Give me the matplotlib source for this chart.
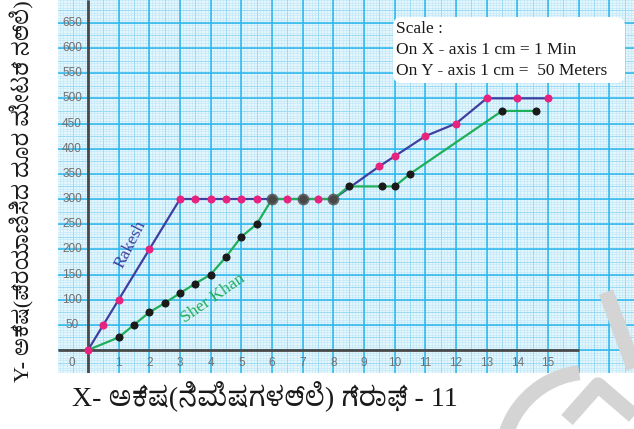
import numpy as np
import matplotlib
matplotlib.use("Agg")
import matplotlib.pyplot as plt
from matplotlib.patches import Arc, FancyBboxPatch

# ---------------- data ----------------
rakesh_x = [0, 0.5, 1, 2, 3, 3.5, 4, 4.5, 5, 5.5, 6, 6.5, 7, 7.5, 8, 9.5, 10, 11, 12, 13, 14, 15]
rakesh_y = [0, 50, 100, 200, 300, 300, 300, 300, 300, 300, 300, 300, 300, 300, 300, 365, 385, 425, 450, 500, 500, 500]

sher_x = [0, 1, 1.5, 2, 2.5, 3, 3.5, 4, 4.5, 5, 5.5, 6, 7, 8, 8.5, 9.6, 10, 10.5, 13.5, 14.6]
sher_y = [0, 25, 50, 75, 93, 113, 132, 150, 185, 225, 250, 300, 300, 300, 325, 325, 325, 350, 475, 475]
sher_big_x = [6, 7, 8]
sher_big_y = [300, 300, 300]

x_ticks = list(range(0, 16))
y_ticks = list(range(50, 651, 50))

x_label = "X- ಅಕ್ಷ(ನಿಮಿಷಗಳಲ್ಲಿ) ಗ್ರಾಫ್ - 11"
y_label = "Y- ಅಕ್ಷ(ಪ್ರಯಾಣಿಸಿದ ದೂರ ಮೀಟರ್ ನಲ್ಲಿ)"
scale_lines = ["Scale :", "On X - axis 1 cm = 1 Min", "On Y - axis 1 cm =  50 Meters"]

# ---------------- figure ----------------
W, H = 634, 429
fig = plt.figure(figsize=(W / 100, H / 100), dpi=100)
fig.patch.set_facecolor("white")

left_px, right_px, top_px, bot_px = 58, 634, 0, 373
ax = fig.add_axes([left_px / W, (H - bot_px) / H, (right_px - left_px) / W, (bot_px - top_px) / H])
xpx = 30.67   # px per minute
ypx = 0.5033  # px per meter
ox, oy = 88, 350
ax.set_xlim((left_px - ox) / xpx, (right_px - ox) / xpx)
ax.set_ylim(-(bot_px - oy) / ypx, (oy - top_px) / ypx)
ax.set_facecolor("#e6f6fd")
for s in ax.spines.values():
    s.set_visible(False)
ax.set_xticks([])
ax.set_yticks([])

x0, x1 = ax.get_xlim()
y0, y1 = ax.get_ylim()
# graph paper grid
for v in np.arange(np.floor(x0), x1 + 0.01, 0.1):
    ax.axvline(v, color="#c3e8f8", lw=0.5, zorder=0)
for v in np.arange(np.floor(y0 / 5) * 5, y1 + 1, 5):
    ax.axhline(v, color="#c3e8f8", lw=0.5, zorder=0)
for v in np.arange(np.floor(x0), x1 + 0.01, 0.5):
    ax.axvline(v, color="#9cdaf3", lw=0.7, zorder=0.5)
for v in np.arange(np.floor(y0 / 25) * 25, y1 + 1, 25):
    ax.axhline(v, color="#9cdaf3", lw=0.7, zorder=0.5)
for v in np.arange(np.floor(x0), x1 + 0.01, 1):
    ax.axvline(v, color="#2ab6ec", lw=1.1, zorder=1)
for v in np.arange(np.floor(y0 / 50) * 50, y1 + 1, 50):
    ax.axhline(v, color="#2ab6ec", lw=1.1, zorder=1)

# axes lines
ax.plot([0, 0], [y0, y1], color="#4a4a4a", lw=2, zorder=2, solid_capstyle="butt")
ax.plot([x0, 16], [0, 0], color="#4a4a4a", lw=2, zorder=2, solid_capstyle="butt")

# tick labels
tick_kw = dict(fontsize=8.5, color="#707070", family=["Liberation Sans", "DejaVu Sans"], zorder=3)
for t in x_ticks:
    xx = t if t > 0 else -0.52
    ax.text(xx, -26, str(t), ha="center", va="center", **tick_kw)
for t in y_ticks:
    ax.text(-0.52, t, str(t), ha="center", va="center", **tick_kw)

# data
ax.plot(rakesh_x, rakesh_y, color="#3f3f9f", lw=1.6, zorder=4)
ax.plot(sher_x, sher_y, color="#1fae5a", lw=1.6, zorder=4)
ax.plot(rakesh_x, rakesh_y, "o", color="#e8237f", ms=5.8, zorder=5, mec="none")
ax.plot(sher_x[1:], sher_y[1:], "o", color="#1a1a1a", ms=5.8, zorder=6, mec="none")
ax.plot(sher_big_x, sher_big_y, "o", color="#505050", ms=8.5, zorder=6, mec="none", alpha=0.85)

ax.text(1.4, 210, "Rakesh", rotation=63, color="#3f3f9f", fontsize=12.5,
        family=["Liberation Serif"], ha="center", va="center", zorder=7)
ax.text(4.08, 102, "Sher Khan", rotation=35, color="#1fae5a", fontsize=12.5,
        family=["Liberation Serif"], ha="center", va="center", zorder=7)

# overlay in pixel coordinates
ov = fig.add_axes([0, 0, 1, 1])
ov.set_xlim(0, W)
ov.set_ylim(H, 0)
ov.axis("off")
ov.patch.set_alpha(0)

box = FancyBboxPatch((393, 17), 232, 66, boxstyle="round,pad=0,rounding_size=9",
                     fc="white", ec="none", zorder=3)
ov.add_patch(box)
for i, line in enumerate(scale_lines):
    ov.text(396, 29 + i * 21, line, fontsize=12.5, family=["Liberation Serif"],
            ha="left", va="center", color="#1a1a1a", zorder=4)

kfam = ["Liberation Serif", "Noto Serif Kannada", "Noto Sans Kannada", "DejaVu Sans"]
xt = ov.text(72, 397, x_label, fontsize=17, family=kfam, ha="left", va="center", color="#1a1a1a")
yt = ov.text(22, 191, y_label, fontsize=17, family=kfam, ha="center", va="center",
             rotation=90, color="#1a1a1a")

# fit label lengths to the reference extents
fig.canvas.draw()
r = fig.canvas.get_renderer()
wx = xt.get_window_extent(r).width
xt.set_fontsize(min(21, 17 * 386 / wx))
hy = yt.get_window_extent(r).height
yt.set_fontsize(min(21, 17 * 382 / hy))

# watermark
wm = "#d4d4d4"
ov.add_patch(Arc((590, 460), 176, 176, theta1=160, theta2=263, lw=11, color=wm, zorder=6))
ov.plot([567, 598, 634], [420, 385, 416], color=wm, lw=11, zorder=6, solid_capstyle="butt")
ov.plot([606, 634], [292, 368], color=wm, lw=11, zorder=6, solid_capstyle="butt")

fig.savefig("out.png", dpi=100, facecolor="white")
